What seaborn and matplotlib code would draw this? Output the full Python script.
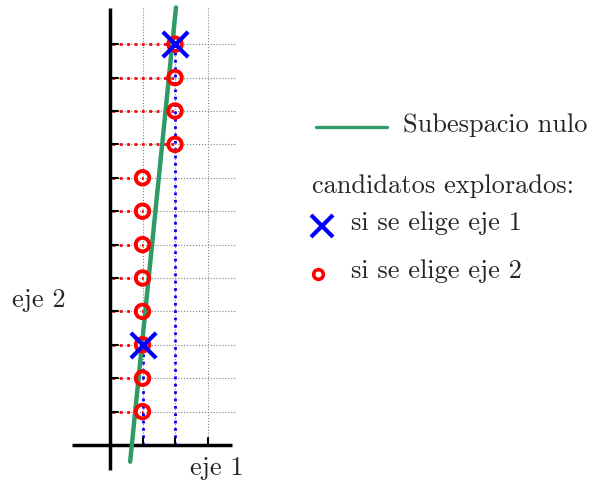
import matplotlib
matplotlib.use("Agg")
import matplotlib.pyplot as plt
from matplotlib.lines import Line2D
import seaborn as sns
import pandas as pd
import numpy as np

# Data
null_x = [0.62, 2.03]
null_y = [-0.5, 13.1]
eje2_x = [1, 1, 1, 1, 1, 1, 1, 1, 2, 2, 2, 2]
eje2_y = [1, 2, 3, 4, 5, 6, 7, 8, 9, 10, 11, 12]
eje1_x = [1, 2]
eje1_y = [3, 12]
grid_x = [1, 2, 3]
grid_y = list(range(1, 13))

GREEN = '#2e9a66'

sns.set_style("white")
plt.rcParams['font.family'] = ['cmr10', 'DejaVu Serif']
plt.rcParams['axes.formatter.use_mathtext'] = True

W, H = 592, 486
fig = plt.figure(figsize=(W/100, H/100), dpi=100)
ax = fig.add_axes([0, 0, 260/W, 1])
ax.set_xlim(-110/32.5, 150/32.5)
ax.set_ylim(-41/33.4, 445/33.4)
ax.axis('off')

# grid
for gx in grid_x:
    ax.plot([gx, gx], [0, 13.1], ls=':', color='gray', lw=0.8, zorder=1)
for gy in grid_y:
    ax.plot([0, 3.85], [gy, gy], ls=':', color='gray', lw=0.8, zorder=1)

# axes lines
ax.plot([-1.17, 3.75], [0, 0], color='black', lw=2.5, zorder=3, solid_capstyle='butt')
ax.plot([0, 0], [-0.75, 13.08], color='black', lw=2.5, zorder=3, solid_capstyle='butt')
for gy in grid_y:
    ax.plot([0, 0.25], [gy, gy], color='black', lw=1.5, zorder=3)
for gx in grid_x:
    ax.plot([gx, gx], [0, 0.22], color='black', lw=1.5, zorder=3)

# red dotted horizontals
for px, py in zip(eje2_x, eje2_y):
    ax.plot([0.05, px], [py, py], ls=':', color='red', lw=2, zorder=2)
# blue dotted verticals
for px, py in zip(eje1_x, eje1_y):
    ax.plot([px, px], [0, py], ls=':', color='blue', lw=2, zorder=2)

# null space line
df_null = pd.DataFrame({'x': null_x, 'y': null_y})
sns.lineplot(data=df_null, x='x', y='y', ax=ax, color=GREEN, lw=3.2, zorder=4,
             sort=False, estimator=None)

df2 = pd.DataFrame({'x': eje2_x, 'y': eje2_y})
sns.scatterplot(data=df2, x='x', y='y', ax=ax, marker='o', s=95,
                facecolors='none', edgecolor='red', linewidth=2.8, zorder=5)
df1 = pd.DataFrame({'x': eje1_x, 'y': eje1_y})
sns.scatterplot(data=df1, x='x', y='y', ax=ax, marker='x', s=330,
                color='blue', linewidth=3, zorder=6)
ax.set_xlabel('')
ax.set_ylabel('')

fs = 19
fig.text(12/W, 1-300/H, 'eje 2', fontsize=fs, va='center', ha='left')
fig.text(190/W, 1-468/H, 'eje 1', fontsize=fs, va='center', ha='left')

# legend (manual)
fig.add_artist(Line2D([316/W, 387/W], [1-127/H, 1-127/H], color=GREEN, lw=2.4))
fig.text(403/W, 1-125/H, 'Subespacio nulo', fontsize=fs, va='center', ha='left')
fig.text(312/W, 1-186/H, 'candidatos explorados:', fontsize=fs, va='center', ha='left')
fig.add_artist(Line2D([322/W], [1-226/H], marker='x', color='blue', markersize=16, mew=3, ls='none'))
fig.text(351/W, 1-223/H, 'si se elige eje 1', fontsize=fs, va='center', ha='left')
fig.add_artist(Line2D([318/W], [1-274/H], marker='o', mfc='none', mec='red', markersize=7, mew=2.6, ls='none'))
fig.text(351/W, 1-271/H, 'si se elige eje 2', fontsize=fs, va='center', ha='left')

fig.savefig('out.png', dpi=100)
